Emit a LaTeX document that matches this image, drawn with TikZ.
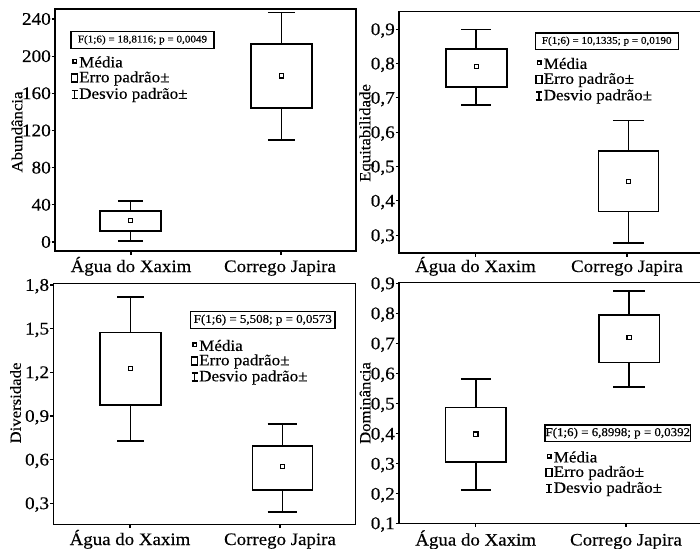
\documentclass[tikz,border=0pt]{standalone}
\usepackage{fontspec}
\setmainfont[FakeStretch=1.08,FakeBold=0.35]{Liberation Serif}
\tikzset{
  frame/.style={line width=1.6pt},
  bx/.style={line width=1.6pt},
  meanmk/.style={line width=1.2pt, fill=white},
  tk/.style={line width=1.1pt},
  ticklab/.style={anchor=base east, inner sep=0pt, font=\fontsize{17.8}{18}\selectfont},
  catlab/.style={anchor=base, inner sep=0pt, font=\fontsize{17.5}{18}\selectfont},
  axlab/.style={rotate=90, inner sep=0pt, font=\fontsize{15.5}{16}\selectfont},
  fsmall/.style={draw, line width=1.3pt, inner sep=0pt, minimum height=16.5pt, font=\fontsize{10.3}{11}\selectfont},
  flarge/.style={draw, line width=1.3pt, inner sep=0pt, minimum height=16.5pt, font=\fontsize{12}{13}\selectfont},
  leg/.style={anchor=west, inner sep=0pt, font=\fontsize{15.8}{16}\selectfont},
  legsym/.style={line width=1.2pt},
}
% box plot: x, whisker top, box top, mean, box bottom, whisker bottom, box half width, cap half width
\newcommand{\bxplot}[8]{%
  \draw[bx] (#1,#2) -- (#1,#6);
  \draw[bx] (#1-#8,#2) -- (#1+#8,#2);
  \draw[bx] (#1-#8,#6) -- (#1+#8,#6);
  \draw[bx, fill=white] (#1-#7,#3) rectangle (#1+#7,#5);
  \draw[meanmk] (#1-2.1,#4-2.1) rectangle (#1+2.1,#4+2.1);
}
% legend items: symbol x (left), first y, text x, spacing
\newcommand{\legitems}[4]{%
  \draw[legsym] (#1+2,#2-2) rectangle (#1+5.5,#2+1.5);
  \node[leg] at (#3,#2+0.5) {Média};
  \draw[legsym] (#1+0.5,#2+#4-4) rectangle (#1+6.5,#2+#4+4);
  \node[leg] at (#3,#2+#4+0.5) {Erro padrão±};
  \draw[legsym] (#1+3.5,#2+2*#4-4) -- (#1+3.5,#2+2*#4+4);
  \draw[legsym] (#1+0.5,#2+2*#4-4) -- (#1+6.5,#2+2*#4-4);
  \draw[legsym] (#1+0.5,#2+2*#4+4) -- (#1+6.5,#2+2*#4+4);
  \node[leg] at (#3,#2+2*#4+0.5) {Desvio padrão±};
}
\begin{document}
\begin{tikzpicture}[x=1pt,y=-1pt]
\useasboundingbox[fill=white] (0,0) rectangle (700,548);

% ---------------- Panel 1: Abundancia ----------------
\draw[frame] (55,9.3) rectangle (355.7,250.7);
\foreach \v/\yy in {240/19,200/56.2,160/93.3,120/130.5,80/167.7,40/204.8,0/242}{
  \draw[tk] (51.5,\yy) -- (55,\yy);
  \node[ticklab] at (51,\yy+5.8) {\v};
}
\foreach \xx in {131,281}{\draw[tk] (\xx,250.7) -- (\xx,254.5);}
\node[catlab] (c1a) at (131,272) {Água do Xaxim};
\node[catlab] (c1b) at (280,272) {Corrego Japira};
\node[axlab] (a1) at (17,132) {Abundância};
\bxplot{130.5}{201}{211}{220.7}{231}{240.7}{30.5}{12.7}
\bxplot{281.5}{12.7}{44.3}{76}{108.3}{140}{30.5}{13.7}
\node[fsmall, minimum width=143pt] (f1) at (142.5,40) {F(1;6) = 18,8116; p = 0,0049};
\legitems{71}{61.5}{79}{16.5}

% ---------------- Panel 2: Equitabilidade ----------------
\draw[frame] (702,11.7) -- (399,11.7) -- (399,252.7) -- (702,252.7);
\foreach \v/\yy in {{0,9}/29.3,{0,8}/63.6,{0,7}/97.9,{0,6}/132.3,{0,5}/166.6,{0,4}/200.9,{0,3}/235.3}{
  \draw[tk] (395.5,\yy) -- (399,\yy);
  \node[ticklab] at (395,\yy+5.8) {\v};
}
\foreach \xx in {475.7,627}{\draw[tk] (\xx,252.7) -- (\xx,256.5);}
\node[catlab] (c2a) at (475.5,272) {Água do Xaxim};
\node[catlab] (c2b) at (627,272) {Corrego Japira};
\node[axlab] (a2) at (366.5,133) {Equitabilidade};
\bxplot{476.2}{29.7}{49}{66.7}{87.3}{105.3}{30.5}{15}
\bxplot{628.3}{120.7}{151}{181.7}{211.3}{242.7}{30}{15.5}
\node[fsmall, minimum width=143pt] (f2) at (606.7,41.3) {F(1;6) = 10,1335; p = 0,0190};
\legitems{535.5}{63}{543.5}{16.5}

% ---------------- Panel 3: Diversidade ----------------
\draw[frame] (53.3,283.3) rectangle (355.3,524.3);
\foreach \v/\yy in {{1,8}/285,{1,5}/328.7,{1,2}/372.3,{0,9}/416,{0,6}/459.7,{0,3}/503.3}{
  \draw[tk] (49.8,\yy) -- (53.3,\yy);
  \node[ticklab] at (49.3,\yy+5.8) {\v};
}
\foreach \xx in {130,280}{\draw[tk] (\xx,524.3) -- (\xx,528);}
\node[catlab] (c3a) at (130,545) {Água do Xaxim};
\node[catlab] (c3b) at (280,545) {Corrego Japira};
\node[axlab] (a3) at (15.5,403) {Diversidade};
\bxplot{130.5}{296.7}{332.3}{368.3}{405}{440.7}{30.5}{13.3}
\bxplot{282.3}{424}{445.7}{466.7}{490}{511.7}{30}{14.7}
\node[flarge, minimum width=144.3pt] (f3) at (262.8,320) {F(1;6) = 5,508; p = 0,0573};
\legitems{191}{345}{199}{16}

% ---------------- Panel 4: Dominancia ----------------
\draw[frame] (702,282.3) -- (399,282.3) -- (399,523.3) -- (702,523.3);
\foreach \v/\yy in {{0,9}/283.3,{0,8}/313.4,{0,7}/343.5,{0,6}/373.6,{0,5}/403.7,{0,4}/433.8,{0,3}/463.8,{0,2}/493.9,{0,1}/523.3}{
  \draw[tk] (395.5,\yy) -- (399,\yy);
  \node[ticklab] at (395,\yy+5.8) {\v};
}
\foreach \xx in {475.7,626}{\draw[tk] (\xx,523.3) -- (\xx,527);}
\node[catlab] (c4a) at (475.7,545.5) {Água do Xaxim};
\node[catlab] (c4b) at (626,545.5) {Corrego Japira};
\node[axlab] (a4) at (365,403) {Dominância};
\bxplot{475.8}{378.7}{407.3}{434}{462}{490}{30.2}{15}
\bxplot{629}{291}{315}{337.7}{362.3}{386.7}{30.3}{16}
\node[flarge, minimum width=145.7pt] (f4) at (617.8,433.2) {F(1;6) = 6,8998; p = 0,0392};
\legitems{545.5}{456.5}{553.5}{16}
\end{tikzpicture}
\end{document}
